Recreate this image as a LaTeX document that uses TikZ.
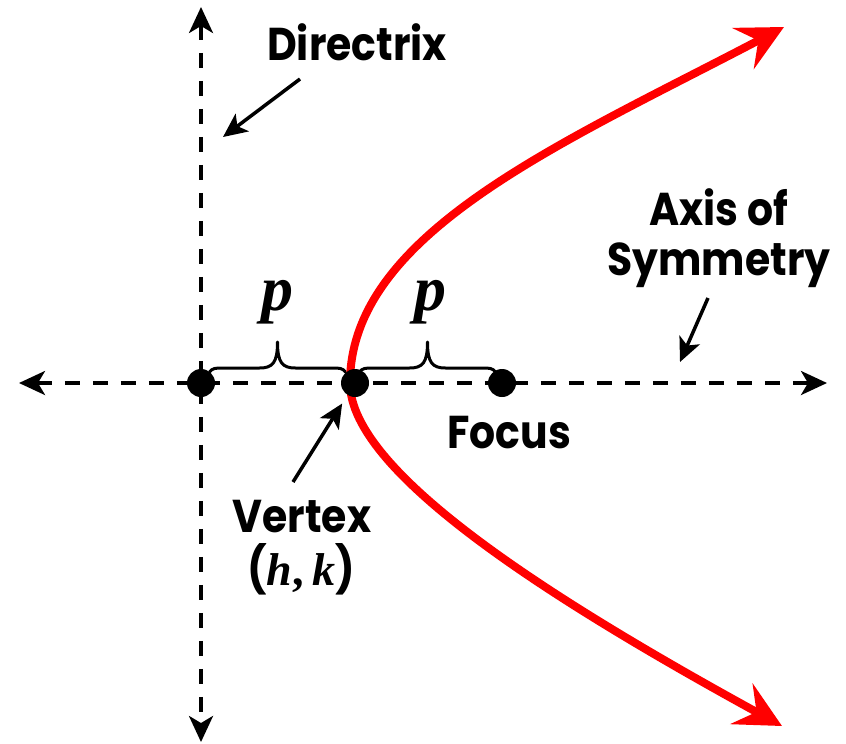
\documentclass[tikz,border=0pt]{standalone}
\usepackage{fontspec}
\newfontfamily\lblfont{Poppins}[FakeStretch=0.89]
\newfontfamily\serfont{Liberation Serif}
\usetikzlibrary{arrows.meta}
\definecolor{curvered}{RGB}{255,0,0}
\tikzset{
  axtip/.tip={Stealth[length=26pt,width=24pt,inset=7pt]},
  redtip/.tip={Stealth[length=46pt,width=46pt,inset=17pt]},
  ptrtip/.tip={Stealth[length=24pt,width=22pt,inset=6pt]},
  axisline/.style={line width=3.5pt, dash pattern=on 15pt off 13pt, axtip-axtip},
  redcurve/.style={line width=8pt, draw=curvered, redtip-redtip},
  ptr/.style={line width=3.5pt, -ptrtip},
  dot/.style={circle, fill=black, minimum size=28pt, inner sep=0pt},
  lbl/.style={font=\lblfont\bfseries\fontsize{46}{50}\selectfont, inner sep=0pt, anchor=base},
  plbl/.style={font=\serfont\bfseries\itshape\fontsize{64}{70}\selectfont, inner sep=0pt, anchor=base},
  bracepic/.pic={\draw[line width=3pt, line join=round, line cap=round]
    (-68,-11) .. controls (-65,-15) and (-62,-15) .. (-54,-15) -- (-18,-15)
    .. controls (-5,-15) and (0,-20) .. (0,-41)
    .. controls (0,-20) and (5,-15) .. (18,-15) -- (54,-15)
    .. controls (62,-15) and (65,-15) .. (68,-11);}
}
\begin{document}
\begin{tikzpicture}[x=1pt,y=-1pt]
\useasboundingbox (0,0) rectangle (846,744);
% axes
\coordinate (xl) at (19,383);
\coordinate (xr) at (827,383);
\coordinate (yt) at (201,7);
\coordinate (yb) at (201,742);
\draw[axisline] (xl) -- (xr);
\draw[axisline] (yt) -- (yb);
% braces
\pic at (277.5,383) {bracepic};
\pic at (427.5,383) {bracepic};
% parabola
\coordinate (cb) at (782,726);
\coordinate (cv) at (350,383);
\coordinate (ct) at (784,27);
\draw[redcurve] (cb) .. controls (554,601) and (350,473) .. (cv)
  .. controls (350,233) and (563,143) .. (ct);
% dots
\node[dot] (ddot) at (201,383) {};
\node[dot] (vdot) at (355,383) {};
\node[dot] (fdot) at (502,383) {};
% labels
\node[lbl] (directrix) at (357,60) {Directrix};
\node[lbl] (focus) at (509,448) {Focus};
\node[lbl] (axis1) at (719,225) {Axis of};
\node[lbl] (axis2) at (719,275) {Symmetry};
\node[lbl] (vertex) at (302,532) {Vertex};
\node[lbl] (hk) at (301,585) {({\serfont\itshape h}{\serfont,} {\serfont\itshape k})};
\node[plbl] (p1) at (277,310) {p};
\node[plbl] (p2) at (430,310) {p};
% pointers
\coordinate (dirA) at (300,79);
\coordinate (dirB) at (223,137);
\draw[ptr] (dirA) -- (dirB);
\coordinate (vA) at (293,482);
\draw[ptr, shorten >=10pt] (vA) -- (vdot);
\coordinate (aA) at (708,298);
\coordinate (aB) at (680,362);
\draw[ptr] (aA) -- (aB);
\end{tikzpicture}
\end{document}
